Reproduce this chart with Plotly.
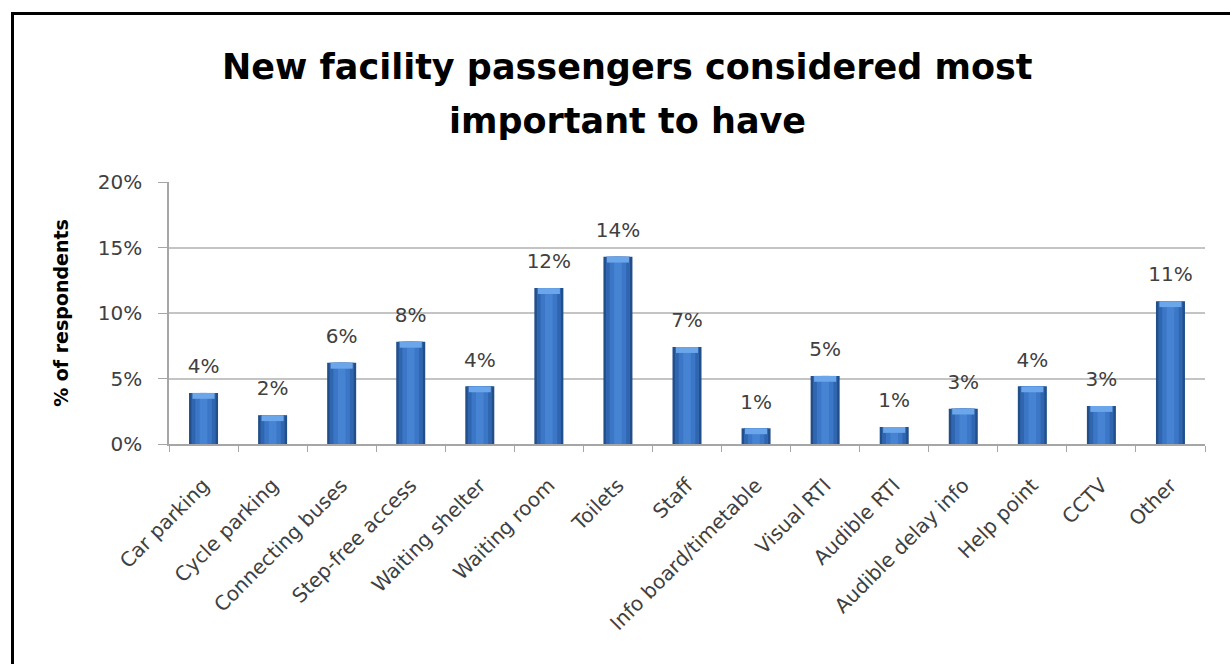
import plotly.graph_objects as go

# Survey results: share of respondents naming each new facility as most important
categories = [
    "Car parking", "Cycle parking", "Connecting buses", "Step-free access",
    "Waiting shelter", "Waiting room", "Toilets", "Staff",
    "Info board/timetable", "Visual RTI", "Audible RTI", "Audible delay info",
    "Help point", "CCTV", "Other",
]
share_pct = [3.9, 2.2, 6.2, 7.8, 4.4, 11.9, 14.3, 7.4, 1.2, 5.2, 1.3, 2.7, 4.4, 2.9, 10.9]

y_ticks = [0, 5, 10, 15, 20]
y_tick_labels = ["0%", "5%", "10%", "15%", "20%"]

title_lines = ["New facility passengers considered most", "important to have"]
y_title = "% of respondents"

FONT = "DejaVu Sans"
TEXT_GREY = "#404040"

fig = go.Figure()

# Layered bars give a rounded, shaded column look: dark rim, mid body, light core
bar_layers = [
    (0.42, "#224E8A"),
    (0.35, "#2F66AF"),
    (0.24, "#3B77C6"),
    (0.11, "#4684D3"),
]
for width, colour in bar_layers:
    fig.add_trace(go.Bar(
        x=categories, y=share_pct, width=width,
        marker=dict(color=colour, line=dict(width=0)),
        hoverinfo="skip", showlegend=False,
    ))

# Light bevel band along the top of each column
bevel_h = 0.45
fig.add_trace(go.Bar(
    x=categories, y=[bevel_h] * len(share_pct),
    base=[v - bevel_h for v in share_pct], width=0.32,
    marker=dict(color="#6BA5EA", line=dict(width=0)),
    hoverinfo="skip", showlegend=False,
))

# Value labels above each column
fig.add_trace(go.Scatter(
    x=categories, y=share_pct, mode="markers+text",
    text=[f"{v:.0f}%" for v in share_pct],
    textposition="top center",
    textfont=dict(family=FONT, size=20, color=TEXT_GREY),
    marker=dict(size=22, opacity=0),
    hoverinfo="skip", showlegend=False, cliponaxis=False,
))

plot_left, plot_right, plot_top, plot_bottom = 169, 1205, 182, 444
plot_w = plot_right - plot_left
plot_h = plot_bottom - plot_top

def px_x(p):
    return (p - plot_left) / plot_w

def px_y(p):
    return (plot_bottom - p) / plot_h

fig.update_layout(
    width=1230, height=664,
    margin=dict(l=plot_left, r=1230 - plot_right, t=plot_top, b=664 - plot_bottom, autoexpand=False),
    paper_bgcolor="white", plot_bgcolor="white",
    barmode="overlay",
    font=dict(family=FONT, color=TEXT_GREY),
    xaxis=dict(
        type="category", range=[-0.5, len(categories) - 0.5],
        tickangle=-45, tickson="boundaries", ticks="outside", ticklen=6,
        tickcolor="#A6A6A6", tickwidth=1,
        showline=True, linecolor="#A6A6A6", linewidth=1.5,
        tickfont=dict(family=FONT, size=20, color=TEXT_GREY),
        ticklabelstandoff=20,
        showgrid=False, fixedrange=True,
    ),
    yaxis=dict(
        range=[0, 20], tickvals=y_ticks, ticktext=y_tick_labels,
        ticks="outside", ticklen=9, tickcolor="#A6A6A6",
        showline=True, linecolor="#A6A6A6", linewidth=1.5,
        showgrid=True, gridcolor="#C4C4C4", gridwidth=1.5,
        zeroline=False,
        tickfont=dict(family=FONT, size=20, color=TEXT_GREY),
        ticklabelstandoff=12,
        title=dict(text=y_title, font=dict(family=FONT, size=19, color="black", weight="bold"), standoff=24),
        fixedrange=True,
    ),
    shapes=[dict(
        type="rect", xref="paper", yref="paper",
        x0=px_x(12.5), x1=px_x(1260), y0=px_y(700), y1=px_y(13.5),
        line=dict(color="black", width=3), fillcolor="rgba(0,0,0,0)", layer="above",
    )],
    annotations=[
        dict(text=title_lines[0], xref="paper", yref="paper", x=px_x(627), y=px_y(67),
             xanchor="center", yanchor="middle", showarrow=False,
             font=dict(family=FONT, size=35, color="black", weight="bold")),
        dict(text=title_lines[1], xref="paper", yref="paper", x=px_x(627), y=px_y(121),
             xanchor="center", yanchor="middle", showarrow=False,
             font=dict(family=FONT, size=35, color="black", weight="bold")),
    ],
)

fig.write_html("out.html")
